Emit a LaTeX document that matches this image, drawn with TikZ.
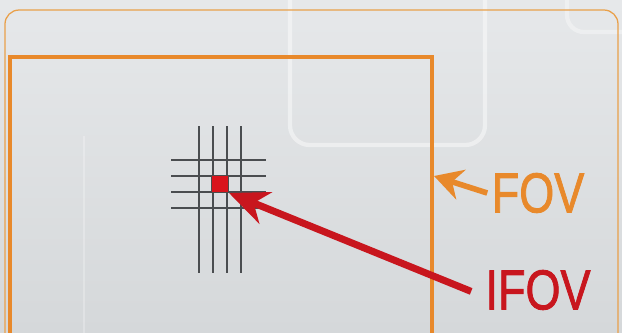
\documentclass[tikz,border=0pt]{standalone}
\usepackage{fontspec}
\setmainfont{Liberation Sans}
\newfontfamily\lblfont[FakeBold=1.6]{Liberation Sans}
\usepackage{tikz}
\usetikzlibrary{positioning, arrows.meta, calc}
\definecolor{bgTop}{HTML}{e6e8ea}
\definecolor{bgBot}{HTML}{d5d8da}
\definecolor{fovOrange}{HTML}{e8892b}
\definecolor{fovThin}{HTML}{e9a04a}
\definecolor{ifovRed}{HTML}{c8161e}
\definecolor{pixRed}{HTML}{d9141c}
\definecolor{gridGray}{HTML}{4a4d50}
\newcommand{\narrow}[1]{\scalebox{0.8}[1]{#1}}

\begin{document}
\begin{tikzpicture}[x=0.025cm, y=-0.025cm,
  lbl/.style={font=\lblfont\fontsize{40}{40}\selectfont, inner sep=0pt},
  gridln/.style={draw=gridGray, line width=1.5pt},
  fovarrow/.style={draw=fovOrange, line width=4pt, -{Stealth[length=20pt,width=22pt]}},
  ifovarrow/.style={draw=ifovRed, line width=5pt, -{Stealth[length=28pt,width=24pt]}}]
\useasboundingbox (0,0) rectangle (622,332);
% backdrop
\shade[top color=bgTop, bottom color=bgBot] (0,0) rectangle (622,332);
\draw[white, opacity=0.45, line width=3pt, rounded corners=14pt] (290,-10) -- (290,145) -- (485,145) -- (485,-10);
\draw[white, opacity=0.35, line width=3pt, rounded corners=12pt] (567,-10) -- (567,32) -- (630,32);
\draw[white, opacity=0.25, line width=1pt] (84,136) -- (84,340);
\draw[fovThin, line width=0.9pt, rounded corners=10pt] (5,340) -- (5,10) -- (618,10) -- (618,340);
% field of view
\draw[fovOrange, line width=3.3pt] (10,340) -- (10,57) -- (432,57) -- (432,340);
\coordinate (fovedge) at (434,176);
% detector grid
\foreach \x in {199,213,227,241} \draw[gridln] (\x,126) -- (\x,273);
\foreach \y in {160,176,192,208} \draw[gridln] (171,\y) -- (266,\y);
\node[draw=black!70, fill=pixRed, line width=0.8pt, minimum size=12pt, inner sep=0pt] (pix) at (220,184) {};
% labels
\node[lbl, text=fovOrange] (fov) at (538,193) {\narrow{FOV}};
\node[lbl, text=ifovRed] (ifov) at (538,290) {\narrow{IFOV}};
\draw[fovarrow] ([xshift=-3pt]fov.west) -- (fovedge);
\draw[ifovarrow] ([xshift=-10pt,yshift=-1pt]ifov.west) -- (pix.south east);
\end{tikzpicture}
\end{document}
